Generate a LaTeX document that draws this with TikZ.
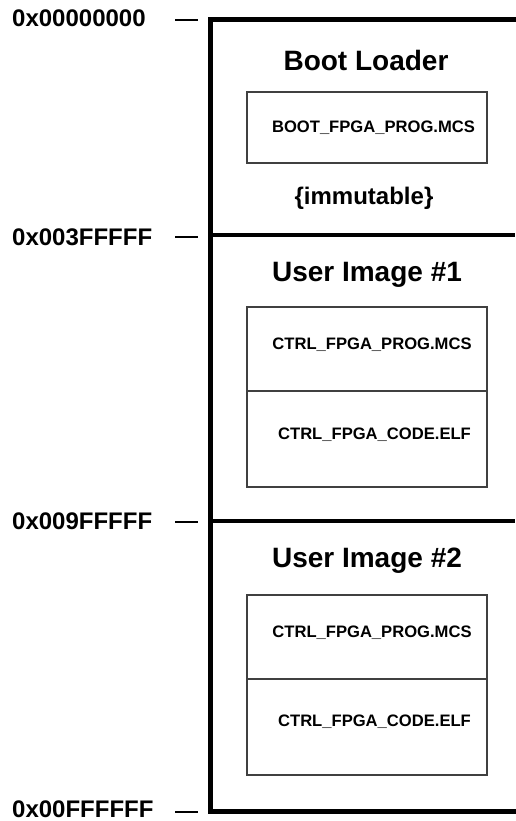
\documentclass[tikz,border=0pt]{standalone}
\usepackage{fontspec}
\setmainfont{Liberation Sans}
\begin{document}
\begin{tikzpicture}[x=1pt,y=-1pt,
  addr/.style={anchor=west,inner sep=0pt,font=\bfseries\fontsize{24}{28}\selectfont},
  title/.style={inner sep=0pt,font=\bfseries\fontsize{28}{32}\selectfont},
  file/.style={inner sep=0pt,font=\bfseries\fontsize{16.6}{20}\selectfont},
  note/.style={inner sep=0pt,font=\bfseries\fontsize{24}{28}\selectfont},
  frame/.style={line width=5pt,line cap=rect},
  divider/.style={line width=3.5pt},
  tick/.style={line width=2.5pt},
  filebox/.style={draw=black!75,line width=1.1pt}]
\useasboundingbox (0,0) rectangle (515,821);
% address labels
\node[addr] (a0) at (12,18) {0x00000000};
\node[addr] (a1) at (12,237) {0x003FFFFF};
\node[addr] (a2) at (12,521) {0x009FFFFF};
\node[addr] (a3) at (12,809) {0x00FFFFFF};
% ticks
\draw[tick] (175,20) -- (198,20);
\draw[tick] (175,237) -- (198,237);
\draw[tick] (175,522) -- (198,522);
\draw[tick] (175,812) -- (198,812);
% outer frame
\draw[frame] (517,20) -- (210.5,20) -- (210.5,811) -- (517,811);
% dividers
\draw[divider] (210.5,235) -- (515,235);
\draw[divider] (210.5,521) -- (515,521);
% Boot loader
\node[title] (t0) at (366,60) {Boot Loader};
\draw[filebox] (247,92) rectangle (487,163);
\node[file] (f0) at (373.5,128) {BOOT\_FPGA\_PROG.MCS};
\node[note] (imm) at (364,198) {\{immutable\}};
% User image 1
\node[title] (t1) at (367,275) {User Image \#1};
\draw[filebox] (247,307) rectangle (487,487);
\draw[filebox] (247,391) -- (487,391);
\node[file] (f1) at (372,345) {CTRL\_FPGA\_PROG.MCS};
\node[file] (f2) at (374.5,435) {CTRL\_FPGA\_CODE.ELF};
% User image 2
\node[title] (t2) at (367,561) {User Image \#2};
\draw[filebox] (247,595) rectangle (487,775);
\draw[filebox] (247,679) -- (487,679);
\node[file] (f3) at (372,633) {CTRL\_FPGA\_PROG.MCS};
\node[file] (f4) at (374.5,722) {CTRL\_FPGA\_CODE.ELF};
\end{tikzpicture}
\end{document}
